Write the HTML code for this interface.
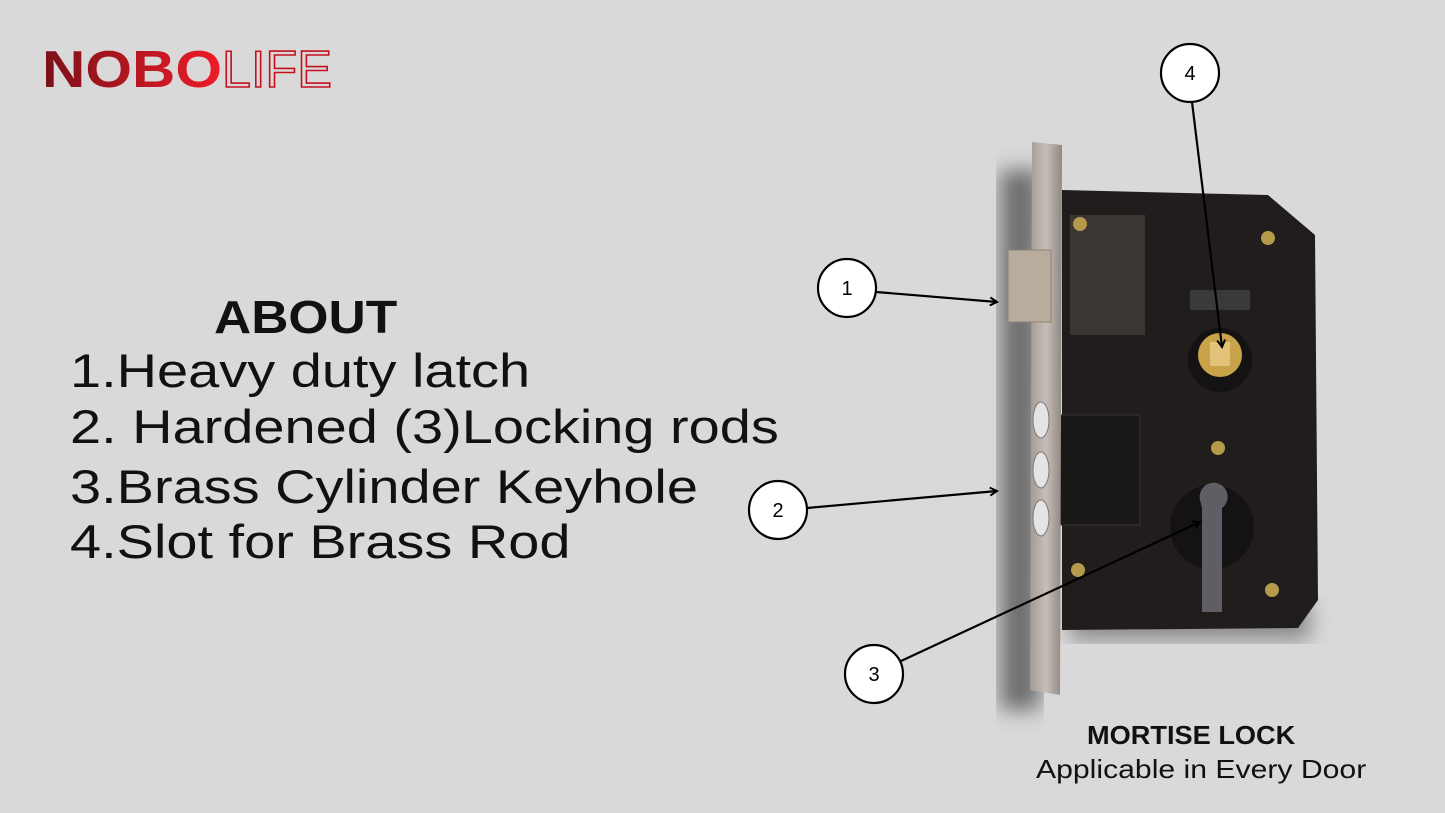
<!DOCTYPE html>
<html><head><meta charset="utf-8"><style>
html,body{margin:0;padding:0;}
body{width:1445px;height:813px;background:#d9d9d9;position:relative;overflow:hidden;font-family:"Liberation Sans",sans-serif;}
.t{position:absolute;white-space:nowrap;color:#111;transform-origin:0 0;}
.l{font-size:47px;line-height:56px;transform:scaleX(1.19);}
</style></head><body>
<svg width="1445" height="813" style="position:absolute;left:0;top:0">
<defs>
<linearGradient id="lg" x1="0" x2="1"><stop offset="0" stop-color="#7a1018"/><stop offset="1" stop-color="#f01c28"/></linearGradient>
<linearGradient id="pl" x1="0" x2="1"><stop offset="0" stop-color="#a49a94"/><stop offset="0.5" stop-color="#c8beb8"/><stop offset="1" stop-color="#8f8782"/></linearGradient>
<filter id="bl"><feGaussianBlur stdDeviation="10"/></filter>
<marker id="ar" markerWidth="10" markerHeight="10" refX="8" refY="5" orient="auto" markerUnits="userSpaceOnUse"><path d="M1,1 L8,5 L1,9" fill="none" stroke="#000" stroke-width="2"/></marker>
</defs>
<text x="42" y="87" font-family="Liberation Sans" font-weight="bold" font-size="52" fill="url(#lg)" textLength="180" lengthAdjust="spacingAndGlyphs">NOBO</text>
<text x="222" y="87" font-family="Liberation Sans" font-size="52" fill="none" stroke="#c4101c" stroke-width="1.6" textLength="110" lengthAdjust="spacingAndGlyphs">LIFE</text>
<rect x="1000" y="170" width="40" height="540" fill="#555" filter="url(#bl)" opacity="0.8"/>
<rect x="1070" y="600" width="240" height="40" fill="#555" filter="url(#bl)" opacity="0.6"/>
<path d="M1062,190 L1268,195 L1315,235 L1318,600 L1298,628 L1062,630 Z" fill="#201d1c"/>
<rect x="1070" y="215" width="75" height="120" fill="#3a3634"/>
<rect x="1060" y="415" width="80" height="110" fill="#1a1817" stroke="#333"/>
<circle cx="1220" cy="360" r="32" fill="#141212"/>
<circle cx="1220" cy="355" r="22" fill="#c9a34a"/>
<rect x="1210" y="342" width="20" height="24" fill="#e3c37a"/>
<circle cx="1212" cy="527" r="42" fill="#141212"/>
<path d="M1200,500 a14,14 0 1 1 22,8 L1222,612 L1202,612 L1202,508 Z" fill="#5e5e64"/>
<rect x="1190" y="290" width="60" height="20" fill="#3a3a3a"/>
<circle cx="1080" cy="224" r="7" fill="#b49a4a"/><circle cx="1268" cy="238" r="7" fill="#b49a4a"/>
<circle cx="1218" cy="448" r="7" fill="#b49a4a"/><circle cx="1078" cy="570" r="7" fill="#b49a4a"/><circle cx="1272" cy="590" r="7" fill="#b49a4a"/>
<path d="M1032,142 L1062,145 L1060,695 L1030,690 Z" fill="url(#pl)"/>
<rect x="1008" y="250" width="43" height="72" fill="#b8ad9c" stroke="#8c8378"/>
<ellipse cx="1041" cy="420" rx="8" ry="18" fill="#e4e4e4" stroke="#777"/>
<ellipse cx="1041" cy="470" rx="8" ry="18" fill="#e4e4e4" stroke="#777"/>
<ellipse cx="1041" cy="518" rx="8" ry="18" fill="#e4e4e4" stroke="#777"/>
<g stroke="#000" stroke-width="2.2" fill="none" marker-end="url(#ar)">
<line x1="876" y1="292" x2="997" y2="302"/>
<line x1="807" y1="508" x2="997" y2="491"/>
<line x1="901" y1="661" x2="1200" y2="522"/>
<line x1="1192" y1="102" x2="1222" y2="347"/>
</g>
<g fill="#fff" stroke="#000" stroke-width="2.2">
<circle cx="847" cy="288" r="29"/><circle cx="778" cy="510" r="29"/><circle cx="874" cy="674" r="29"/><circle cx="1190" cy="73" r="29"/>
</g>
<g font-family="Liberation Sans" font-size="20" text-anchor="middle" fill="#000">
<text x="847" y="295">1</text><text x="778" y="517">2</text><text x="874" y="681">3</text><text x="1190" y="80">4</text>
</g>
</svg>
<div class="t" style="left:214px;top:290px;font-size:46px;font-weight:bold;transform:scaleX(1.12);">ABOUT</div>
<div class="t l" style="left:70px;top:343px;">1.Heavy duty latch</div>
<div class="t l" style="left:70px;top:399px;">2. Hardened (3)Locking rods</div>
<div class="t l" style="left:70px;top:459px;">3.Brass Cylinder Keyhole</div>
<div class="t l" style="left:70px;top:514px;">4.Slot for Brass Rod</div>
<div class="t" style="left:1087px;top:720px;font-size:26px;font-weight:bold;transform:scaleX(1.045);">MORTISE LOCK</div>
<div class="t" style="left:1036px;top:754px;font-size:26px;transform:scaleX(1.16);">Applicable in Every Door</div>
</body></html>
